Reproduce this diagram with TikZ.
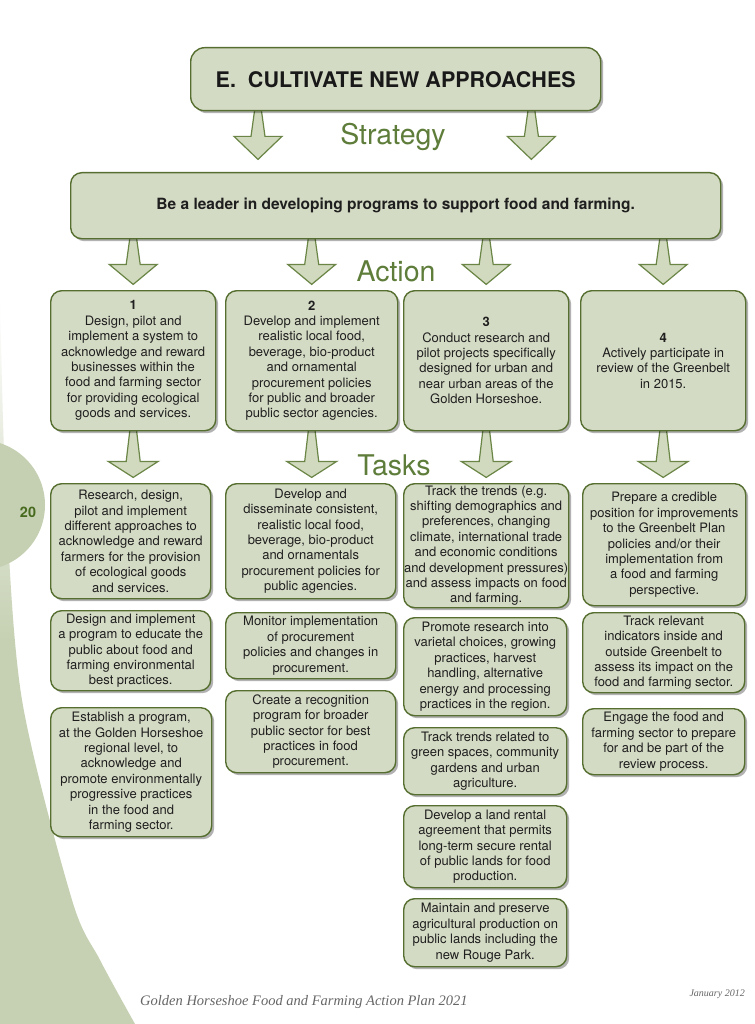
\documentclass[tikz,border=0pt]{standalone}
\usepackage{fontspec}
\setmainfont{TeX Gyre Heros}
\newfontfamily\footfont{Liberation Serif}
\usetikzlibrary{shadows,calc}
\definecolor{boxfill}{HTML}{D4DBC4}
\definecolor{boxline}{HTML}{566F30}
\definecolor{arrfill}{HTML}{D1DABF}
\definecolor{arrline}{HTML}{6A8545}
\definecolor{labgreen}{HTML}{5F7D3A}
\definecolor{sage}{HTML}{C6D1B3}
\definecolor{tabgreen}{HTML}{C5D0B2}
\definecolor{numgreen}{HTML}{476A1E}
\pgfdeclarelayer{bg}
\pgfdeclarelayer{arr}
\pgfsetlayers{bg,arr,main}
\newcommand\bodyfont{\fontsize{13}{15.4}\selectfont}
\newcommand\blockarr[4]{%
  \begin{pgfonlayer}{arr}
  \draw[arrsty, shift={#1}] (-3,-4) -- (-7,#2) -- (-#4,#2) -- (0,#2+#3) -- (#4,#2) -- (7,#2) -- (3,-4) -- cycle;
  \end{pgfonlayer}}
\begin{document}
\begin{tikzpicture}[x=1pt,y=-1pt,
  box/.style={draw=boxline, line width=1.4pt, fill=boxfill, rounded corners=11pt,
    drop shadow={shadow xshift=2.5pt, shadow yshift=-2.5pt, opacity=0.3, fill=black},
    inner sep=0pt, anchor=north west, align=center, font=\bodyfont, text=black!88},
  arrsty/.style={draw=arrline, line width=1.2pt, fill=arrfill, line join=miter},
  lab/.style={font=\fontsize{28.5}{30}\selectfont, text=labgreen, anchor=base, inner sep=0pt}]
\useasboundingbox (0,0) rectangle (754,1024);
\begin{pgfonlayer}{bg}
\fill[white] (0,0) rectangle (754,1024);
\begin{scope}
\clip plot[smooth] coordinates {(0,300) (6,500) (22,700) (72,900) (100,960) (135,1024)} -- (0,1024) -- cycle;
\shade[top color=white, bottom color=sage] (0,300) rectangle (140,640);
\fill[sage] (0,639) rectangle (140,1024);
\end{scope}
\fill[tabgreen] (-20,505) circle[radius=65];
\end{pgfonlayer}
\node[font=\bfseries\fontsize{14.4}{16}\selectfont, text=numgreen] (pg) at (28,512) {20};

% title and strategy
\node[box, rounded corners=14pt, minimum width=410pt, minimum height=63pt,
  font=\bfseries\fontsize{21.5}{24}\selectfont, text=black!90] (title) at (190,47) {E.\ \ CULTIVATE NEW APPROACHES};
\node[lab] (lstrat) at (393,145) {Strategy};
\node[box, minimum width=650pt, minimum height=66pt,
  font=\bfseries\fontsize{15.5}{17}\selectfont] (strat) at (70,172) {Be a leader in developing programs to support food and farming.};
\node[lab] (lact) at (396,281) {Action};

% actions
\node[box, minimum width=165pt, minimum height=140pt] (a1) at (50,290)
 {\textbf{1}\\Design, pilot and\\implement a system to\\acknowledge and reward\\businesses within the\\food and farming sector\\for providing ecological\\goods and services.};
\node[box, minimum width=172pt, minimum height=140pt] (a2) at (225,290)
 {\textbf{2}\\Develop and implement\\realistic local food,\\beverage, bio-product\\and ornamental\\procurement policies\\for public and broader\\public sector agencies.};
\node[box, minimum width=165pt, minimum height=140pt] (a3) at (403,290)
 {\textbf{3}\\Conduct research and\\pilot projects specifically\\designed for urban and\\near urban areas of the\\Golden Horseshoe.};
\node[box, minimum width=165pt, minimum height=140pt] (a4) at (580,290)
 {\textbf{4}\\Actively participate in\\review of the Greenbelt\\in 2015.};
\node[lab] (ltask) at (394,475) {Tasks};

% tasks column 1
\node[box, minimum width=160pt, minimum height=115pt] (t1a) at (50,483)
 {Research, design,\\pilot and implement\\different approaches to\\acknowledge and reward\\farmers for the provision\\of ecological goods\\and services.};
\node[box, minimum width=160pt, minimum height=80pt] (t1b) at (50,610)
 {Design and implement\\a program to educate the\\public about food and\\farming environmental\\best practices.};
\node[box, minimum width=161pt, minimum height=129pt] (t1c) at (50,707)
 {Establish a program,\\at the Golden Horseshoe\\regional level, to\\acknowledge and\\promote environmentally\\progressive practices\\in the food and\\farming sector.};
% column 2
\node[box, minimum width=170pt, minimum height=115pt] (t2a) at (225,483)
 {Develop and\\disseminate consistent,\\realistic local food,\\beverage, bio-product\\and ornamentals\\procurement policies for\\public agencies.};
\node[box, minimum width=170pt, minimum height=66pt] (t2b) at (225,612)
 {Monitor implementation\\of procurement\\policies and changes in\\procurement.};
\node[box, minimum width=170pt, minimum height=82pt] (t2c) at (225,690)
 {Create a recognition\\program for broader\\public sector for best\\practices in food\\procurement.};
% column 3
\node[box, minimum width=165pt, minimum height=124pt] (t3a) at (403,483)
 {Track the trends (e.g.\\shifting demographics and\\preferences, changing\\climate, international trade\\and economic conditions\\and development pressures)\\and assess impacts on food\\and farming.};
\node[box, minimum width=163pt, minimum height=98pt] (t3b) at (403,617)
 {Promote research into\\varietal choices, growing\\practices, harvest\\handling, alternative\\energy and processing\\practices in the region.};
\node[box, minimum width=163pt, minimum height=67pt] (t3c) at (403,727)
 {Track trends related to\\green spaces, community\\gardens and urban\\agriculture.};
\node[box, minimum width=163pt, minimum height=82pt] (t3d) at (403,805)
 {Develop a land rental\\agreement that permits\\long-term secure rental\\of public lands for food\\production.};
\node[box, minimum width=163pt, minimum height=68pt] (t3e) at (403,898)
 {Maintain and preserve\\agricultural production on\\public lands including the\\new Rouge Park.};
% column 4
\node[box, minimum width=163pt, minimum height=122pt] (t4a) at (582,483)
 {Prepare a credible\\position for improvements\\to the Greenbelt Plan\\policies and/or their\\implementation from\\a food and farming\\perspective.};
\node[box, minimum width=162pt, minimum height=80pt] (t4b) at (582,612)
 {Track relevant\\indicators inside and\\outside Greenbelt to\\assess its impact on the\\food and farming sector.};
\node[box, minimum width=162pt, minimum height=66pt] (t4c) at (582,708)
 {Engage the food and\\farming sector to prepare\\for and be part of the\\review process.};

% arrows
\blockarr{($(title.south west)+(68,0)$)}{25}{23}{24}
\blockarr{($(title.south east)+(-70,0)$)}{25}{23}{24}
\blockarr{(strat.south -| a1.north)}{25}{20}{24}
\blockarr{(strat.south -| a2.north)}{25}{20}{24}
\blockarr{(strat.south -| a3.north)}{25}{20}{24}
\blockarr{(strat.south -| a4.north)}{25}{20}{24}
\blockarr{(a1.south)}{30}{16}{25}
\blockarr{(a2.south)}{30}{16}{25}
\blockarr{(a3.south)}{30}{16}{25}
\blockarr{(a4.south)}{30}{16}{25}

% footer
\node[font=\footfont\itshape\fontsize{14.5}{16}\selectfont, text=black!60, anchor=base west, inner sep=0pt] (foot) at (140,1005) {Golden Horseshoe Food and Farming Action Plan 2021};
\node[font=\footfont\itshape\fontsize{10}{12}\selectfont, text=black!60, anchor=base east, inner sep=0pt] (date) at (745,996) {January 2012};
\end{tikzpicture}
\end{document}
